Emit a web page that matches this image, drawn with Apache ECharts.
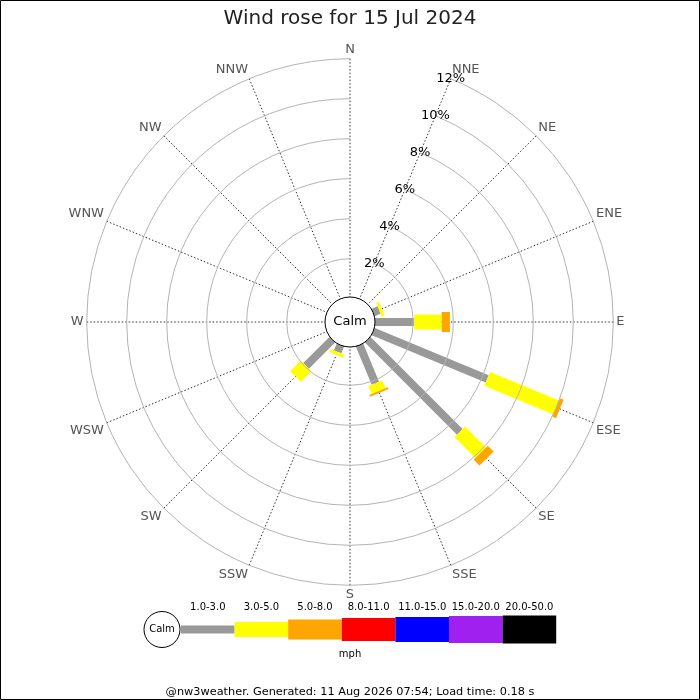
<!DOCTYPE html>
<html>
<head>
<meta charset="utf-8">
<title>Wind rose</title>
<script src="https://cdn.jsdelivr.net/npm/echarts@6/dist/echarts.min.js"></script>
<style>
  html, body { margin: 0; padding: 0; background: #fff; }
  #chart { width: 700px; height: 700px; }
</style>
</head>
<body>
<div id="chart"></div>
<script>
"use strict";

// directions start at NNE so the % scale sits on the NNE spoke, as in the original
const DIRS = ["NNE", "NE", "ENE", "E", "ESE", "SE", "SSE", "S",
              "SSW", "SW", "WSW", "W", "WNW", "NW", "NNW", "N"];

// share of the day (%) per direction, one array per speed class
const SPD_1_3   = [0, 0, 0.41, 2.05, 6.26, 6.60, 2.15, 0, 0.45, 1.94, 0, 0, 0, 0, 0, 0];
const SPD_3_5   = [0, 0, 0.15, 1.37, 3.74, 1.48, 0.43, 0, 0.17, 0.75, 0, 0, 0, 0, 0, 0];
const SPD_5_8   = [0, 0, 0,    0.41, 0.19, 0.41, 0.09, 0, 0,    0,    0, 0, 0, 0, 0, 0];
const SPD_8_11  = [0, 0, 0, 0, 0, 0, 0, 0, 0, 0, 0, 0, 0, 0, 0, 0];
const SPD_11_15 = [0, 0, 0, 0, 0, 0, 0, 0, 0, 0, 0, 0, 0, 0, 0, 0];
const SPD_15_20 = [0, 0, 0, 0, 0, 0, 0, 0, 0, 0, 0, 0, 0, 0, 0, 0];
const SPD_20_50 = [0, 0, 0, 0, 0, 0, 0, 0, 0, 0, 0, 0, 0, 0, 0, 0];

const CLASS_LABELS = ["1.0-3.0", "3.0-5.0", "5.0-8.0", "8.0-11.0", "11.0-15.0", "15.0-20.0", "20.0-50.0"];
const CLASS_DATA   = [SPD_1_3, SPD_3_5, SPD_5_8, SPD_8_11, SPD_11_15, SPD_15_20, SPD_20_50];

const RADIUS_MAX = 12;
const RADIUS_STEP = 2;

/* ── styling ── */
const COLORS = ["#999999", "#ffff00", "#ffa500", "#ff0000", "#0000ff", "#a020f0", "#000000"];
const WIDTHS = [8, 15, 20, 23, 25, 27, 28];
const CX = 350, CY = 322;
const FONT = "DejaVu Sans";

document.addEventListener("DOMContentLoaded", () => {
  const chart = echarts.init(document.getElementById("chart"), null, { renderer: "canvas" });

  // stack the classes: each segment runs from the running total to the new total
  const totals = DIRS.map(() => 0);
  const series = CLASS_DATA.map((arr, k) => {
    const rows = [];
    arr.forEach((v, i) => {
      if (v > 0) {
        rows.push([i, totals[i], totals[i] + v]);
        totals[i] += v;
      }
    });
    return {
      name: CLASS_LABELS[k],
      type: "custom",
      coordinateSystem: "polar",
      encode: { angle: 0, radius: [1, 2] },
      data: rows,
      z: 3 + k,
      silent: true,
      renderItem(params, api) {
        const dir = api.value(0);
        const p0 = api.coord([api.value(1), dir]);
        const p1 = api.coord([api.value(2), dir]);
        return {
          type: "line",
          shape: { x1: p0[0], y1: p0[1], x2: p1[0], y2: p1[1] },
          style: { stroke: COLORS[k], lineWidth: WIDTHS[k], lineCap: "butt" }
        };
      }
    };
  });

  // legend: calm circle, then one box per class with growing height
  const legendX = 181, boxW = 53.6, legendY = 629.5;
  const legend = [
    { type: "circle", shape: { cx: 162, cy: legendY, r: 18 }, style: { fill: "#fff", stroke: "#000", lineWidth: 1 } },
    { type: "text", x: 162, y: legendY, style: { text: "Calm", font: "10px " + FONT, fill: "#000", align: "center", verticalAlign: "middle" } }
  ];
  CLASS_LABELS.forEach((lab, k) => {
    const x = legendX + k * boxW;
    legend.push({ type: "rect", shape: { x: x, y: legendY - WIDTHS[k] / 2, width: boxW, height: WIDTHS[k] }, style: { fill: COLORS[k] } });
    legend.push({ type: "text", x: x + boxW / 2, y: 607, style: { text: lab, font: "10px " + FONT, fill: "#000", align: "center", verticalAlign: "middle" } });
  });
  legend.push({ type: "text", x: 350, y: 654, style: { text: "mph", font: "10px " + FONT, fill: "#000", align: "center", verticalAlign: "middle" } });

  chart.setOption({
    backgroundColor: "#fff",
    animation: false,
    textStyle: { fontFamily: FONT },
    title: {
      text: "Wind rose for 15 Jul 2024",
      left: "center", top: 4,
      textStyle: { fontSize: 20, fontWeight: "normal", color: "#222", fontFamily: FONT }
    },
    polar: { center: [CX, CY], radius: [23.3, 263.3] },
    angleAxis: {
      type: "category",
      data: DIRS,
      boundaryGap: false,
      startAngle: 67.5,
      clockwise: true,
      axisLine: { show: false },
      axisTick: { show: false },
      axisLabel: { color: "#555", fontSize: 13, margin: 3 },
      splitLine: { show: true, lineStyle: { color: "#333", width: 1, type: [1.5, 2] } }
    },
    radiusAxis: {
      type: "value",
      min: 0, max: RADIUS_MAX, interval: RADIUS_STEP,
      axisLine: { show: false },
      axisTick: { show: false },
      axisLabel: {
        formatter: "{value}%", color: "#000", fontSize: 13, margin: 0,
        align: "center", verticalAlign: "middle", showMinLabel: false
      },
      splitLine: { show: true, lineStyle: { color: "#b4b4b4", width: 1 } },
      z: 20
    },
    series: series,
    graphic: [
      { type: "rect", z: 50, shape: { x: 0.5, y: 0.5, width: 699, height: 699 }, style: { fill: null, stroke: "#000", lineWidth: 1 } },
      { type: "circle", z: 50, shape: { cx: CX, cy: CY, r: 25 }, style: { fill: "#fff", stroke: "#000", lineWidth: 1 } },
      { type: "text", z: 51, x: CX, y: CY, style: { text: "Calm", font: "13px " + FONT, fill: "#000", align: "center", verticalAlign: "middle" } },
      { type: "group", z: 50, children: legend },
      { type: "text", z: 50, x: 350, y: 692, style: { text: "@nw3weather. Generated: 11 Aug 2026 07:54; Load time: 0.18 s", font: "11.3px " + FONT, fill: "#000", align: "center", verticalAlign: "middle" } }
    ]
  });
  window.addEventListener("resize", () => chart.resize());
});
</script>
</body>
</html>
